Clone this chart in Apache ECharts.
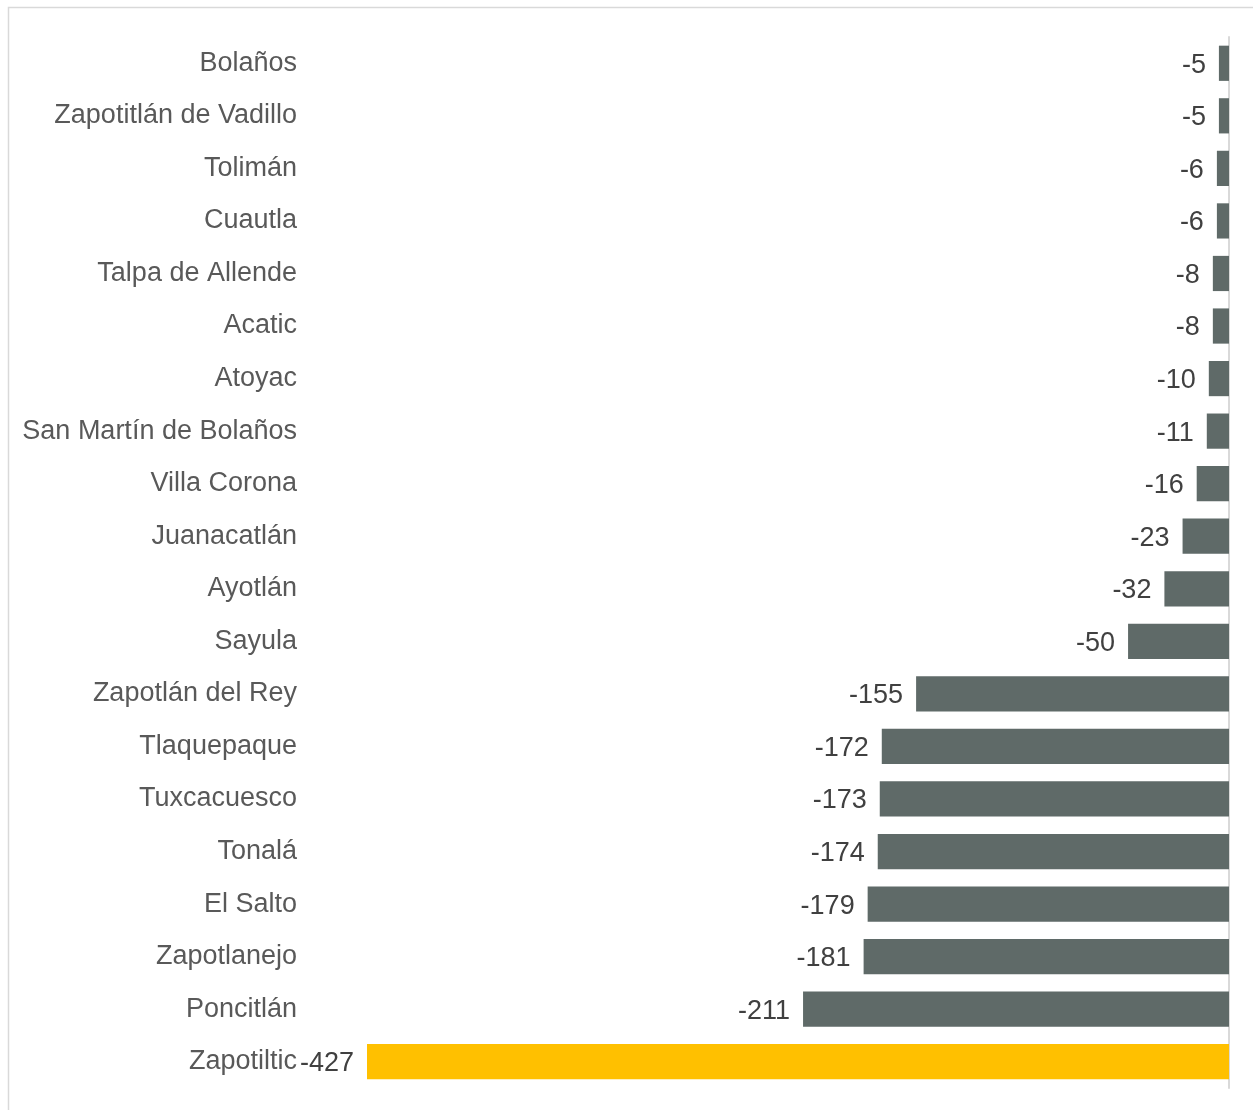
<!DOCTYPE html>
<html>
<head>
<meta charset="utf-8">
<script src="https://cdn.jsdelivr.net/npm/echarts@6/dist/echarts.min.js"></script>
<style>html,body{margin:0;padding:0;background:#fff}#c{width:1253px;height:1110px}</style>
</head>
<body>
<div id="c"></div>
<script>
const categories = ["Bolaños","Zapotitlán de Vadillo","Tolimán","Cuautla","Talpa de Allende","Acatic","Atoyac","San Martín de Bolaños","Villa Corona","Juanacatlán","Ayotlán","Sayula","Zapotlán del Rey","Tlaquepaque","Tuxcacuesco","Tonalá","El Salto","Zapotlanejo","Poncitlán","Zapotiltic"];
const values = [-5,-5,-6,-6,-8,-8,-10,-11,-16,-23,-32,-50,-155,-172,-173,-174,-179,-181,-211,-427];
const highlight = "Zapotiltic";

const chart = echarts.init(document.getElementById('c'), null, {renderer:'canvas'});
const font = 'Liberation Sans, Arial, sans-serif';
chart.setOption({
  animation:false,
  backgroundColor:'#ffffff',
  graphic:[{type:'rect',shape:{x:8.5,y:7.5,width:1260,height:1120},style:{fill:'none',stroke:'#d9d9d9',lineWidth:1.5},silent:true}],
  grid:{left:367,right:24,top:37,bottom:22,containLabel:false},
  xAxis:{type:'value',min:-427,max:0,show:false},
  yAxis:[
    {type:'category',data:categories,inverse:true,position:'left',
     axisLine:{show:false},axisTick:{show:false},
     axisLabel:{margin:70,fontSize:27,color:'#595959',fontFamily:font,padding:[4,0,0,0]}},
    {type:'category',data:categories,inverse:true,position:'right',
     axisLine:{show:true,onZero:false,lineStyle:{color:'#d9d9d9',width:2}},
     axisTick:{show:false},axisLabel:{show:false}}
  ],
  series:[{
    type:'bar',yAxisIndex:0,barWidth:'67%',
    data:values.map((v,i)=>({value:v,itemStyle:{color:categories[i]===highlight?'#FFC000':'#5F6A68'}})),
    label:{show:true,position:'left',distance:13,offset:[0,2],fontSize:27,color:'#404040',fontFamily:font}
  }]
});
</script>
</body>
</html>
